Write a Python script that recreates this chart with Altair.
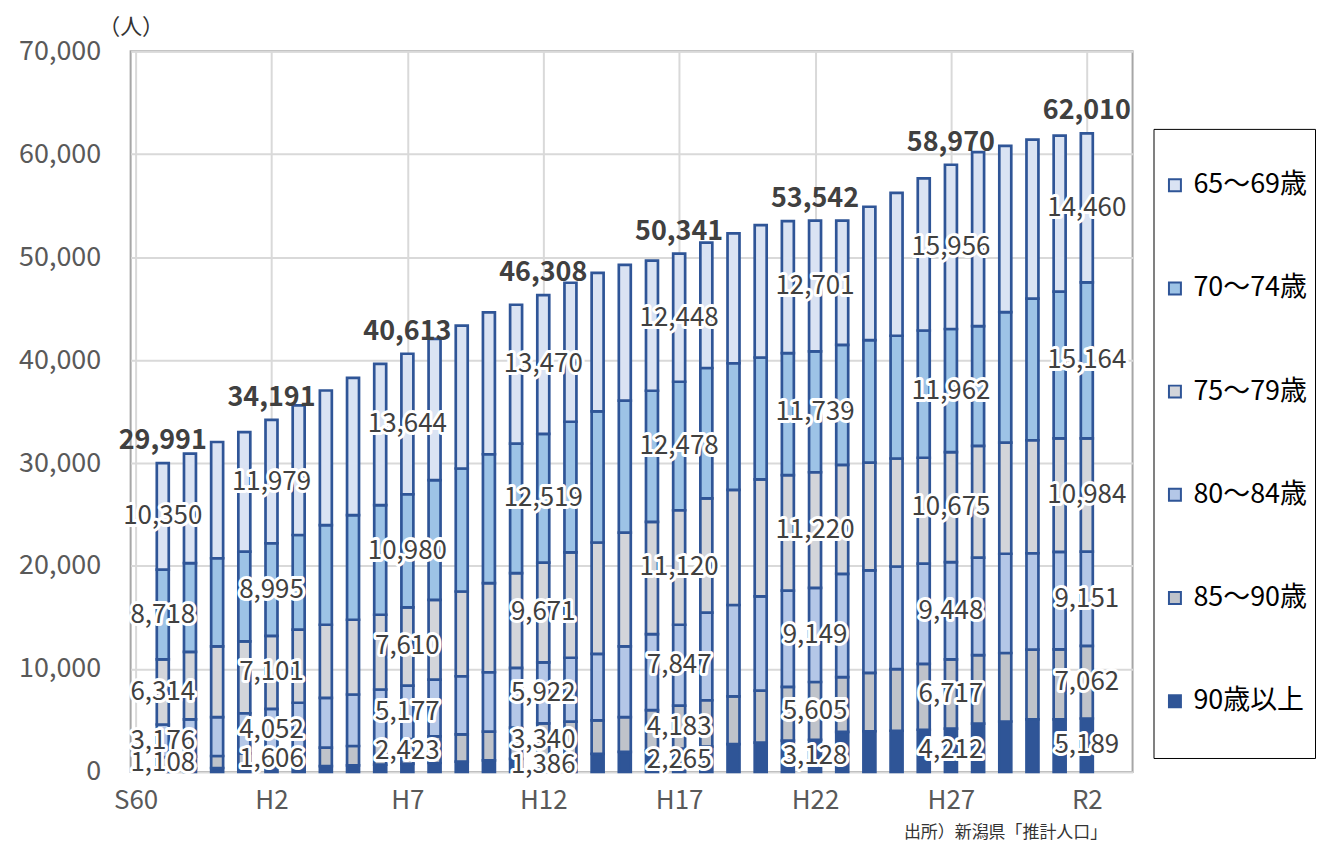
import altair as alt
import pandas as pd

FONT = "Noto Sans CJK JP"

# ---------------- data ----------------
groups = ["65～69歳", "70～74歳", "75～79歳", "80～84歳", "85～90歳", "90歳以上"]
colors = ["#DAE3F3", "#9DC3E6", "#D3D5DA", "#B4C7E7", "#BFC3CA", "#2F5597"]

tick_pos = [-1, 4, 9, 14, 19, 24, 29, 34]
tick_lab = ["S60", "H2", "H7", "H12", "H17", "H22", "H27", "R2"]

labeled_bars = [0, 4, 9, 14, 19, 24, 29, 34]
no_90_label = [0, 4, 9]

a90 = [325, 350, 385, 420, 458, 500, 560, 640, 710, 779, 870, 1000, 1130, 1260, 1386,
       1580, 1760, 1950, 2100, 2265, 2450, 2700, 2850, 3050, 3128, 3900, 3950, 4000, 4100,
       4212, 4700, 4900, 5100, 5100, 5189]
a85 = [1108, 1130, 1164, 1380, 1606, 1750, 1802, 1877, 2190, 2423, 2580, 2649, 2781, 3040, 3340,
       3310, 3240, 3380, 3900, 4183, 4510, 4630, 5050, 5210, 5605, 5316, 5680, 5980, 6400,
       6717, 6640, 6650, 6780, 6810, 7062]
a80 = [3176, 3621, 3775, 3900, 4052, 4468, 4840, 5004, 5105, 5177, 5523, 5644, 5769, 5806, 5922,
       6200, 6470, 6870, 7390, 7847, 8520, 8880, 9150, 9340, 9149, 10014, 9950, 9970, 9730,
       9448, 9480, 9640, 9360, 9470, 9151]
a75 = [6314, 6554, 6873, 6981, 7101, 7095, 7095, 7260, 7260, 7610, 7744, 8228, 8654, 9196, 9671,
       10230, 10810, 11050, 10890, 11120, 11090, 11190, 11370, 11230, 11220, 10600, 10460, 10490,
       10280, 10675, 10850, 10800, 10970, 11020, 10984]
a70 = [8718, 8615, 8557, 8712, 8995, 9196, 9680, 10164, 10648, 10980, 11616, 11945, 12516, 12584,
       12519, 12690, 12740, 12810, 12740, 12478, 12660, 12290, 11830, 11840, 11739, 11640, 11900,
       11920, 12360, 11962, 11630, 12660, 13750, 14240, 15164]
a65 = [10350, 10648, 11287, 11616, 11979, 12584, 13068, 13330, 13717, 13644, 13717, 13871, 13775,
       13484, 13470, 13500, 13440, 13190, 12640, 12448, 12170, 12610, 12850, 12830, 12701, 12070,
       12946, 13870, 14770, 15956, 16900, 16150, 15440, 15160, 14460]

# ---------------- tables ----------------
series_bottom_up = [("90歳以上", a90), ("85～90歳", a85), ("80～84歳", a80),
                    ("75～79歳", a75), ("70～74歳", a70), ("65～69歳", a65)]
rows, tot_rows = [], []
for i in range(len(a90)):
    base = 0
    for k, (name, arr) in enumerate(series_bottom_up):
        v = arr[i]
        show = (i in labeled_bars) and not (k == 0 and i in no_90_label)
        rows.append(dict(i=i, group=name, v=v, y0=base, y1=base + v,
                         mid=base + v / 2, show=show))
        base += v
    if i in labeled_bars:
        tot_rows.append(dict(i=i, total=base))
df = pd.DataFrame(rows)
tot = pd.DataFrame(tot_rows)
lab = df[df["show"]]

label_expr = " : ".join(
    f"datum.value == {p} ? '{t}'" for p, t in zip(tick_pos, tick_lab)) + " : ''"

xscale = alt.Scale(domain=[-1, 35.5], nice=False, zero=False)
yscale = alt.Scale(domain=[0, 70000], nice=False)

x_axis = alt.Axis(values=tick_pos, labelExpr=label_expr, grid=True, ticks=False,
                  domain=False, labelFontSize=26, labelColor="#595959", labelFont=FONT,
                  labelPadding=16, labelFlush=False,
                  title="出所）新潟県「推計人口」", titleFont=FONT, titleFontSize=17,
                  titleFontWeight="normal", titleColor="#333333",
                  titleX=979, titleY=61, titleAlign="right", titleBaseline="middle")
y_axis = alt.Axis(values=list(range(0, 70001, 10000)), format=",d", grid=True, ticks=False,
                  domain=False, labelFontSize=27, labelColor="#595959", labelFont=FONT,
                  labelPadding=30,
                  title="（人）", titleFont=FONT, titleFontSize=22, titleFontWeight="normal",
                  titleColor="#333333", titleAngle=0, titleX=0, titleY=-25,
                  titleAlign="center", titleBaseline="middle")

bars = alt.Chart(df).mark_bar(size=12, stroke="#2F5597", strokeWidth=2.7).encode(
    x=alt.X("i:Q", scale=xscale, axis=x_axis),
    y=alt.Y("y0:Q", scale=yscale, axis=y_axis),
    y2="y1:Q",
    color=alt.Color("group:N", scale=alt.Scale(domain=groups, range=colors),
                    legend=alt.Legend(title=None, orient="none", legendX=1026, legendY=78,
                                      direction="vertical", symbolType="square",
                                      symbolSize=144, symbolStrokeColor="#2F5597",
                                      symbolStrokeWidth=2, labelFontSize=27,
                                      labelFont=FONT, labelColor="#000000",
                                      labelOffset=5, strokeColor="#000000",
                                      padding=8, clipHeight=97, rowPadding=6.5,
                                      labelLimit=300)),
)

halo = alt.Chart(lab).mark_text(font=FONT, fontSize=26, fill="white", stroke="white",
                                strokeWidth=6, strokeJoin="round", baseline="middle").encode(
    x="i:Q", y="mid:Q", text=alt.Text("v:Q", format=",d"))
txt = alt.Chart(lab).mark_text(font=FONT, fontSize=26, fill="#404040",
                               baseline="middle").encode(
    x="i:Q", y="mid:Q", text=alt.Text("v:Q", format=",d"))
tot_txt = alt.Chart(tot).mark_text(font=FONT, fontSize=27, fontWeight="bold", fill="#404040",
                                   baseline="alphabetic", dy=-14).encode(
    x="i:Q", y="total:Q", text=alt.Text("total:Q", format=",d"))

chart = alt.layer(bars, halo, txt, tot_txt).properties(
    width=1005, height=723,
    autosize=alt.AutoSizeParams(type="none"),
    padding={"left": 123, "top": 42, "right": 186, "bottom": 71},
).configure_view(stroke="#A6A6A6", strokeWidth=2).configure_axis(
    gridColor="#D9D9D9", gridWidth=2)

chart.save("out.html", embed_options={"renderer": "svg", "actions": False})
